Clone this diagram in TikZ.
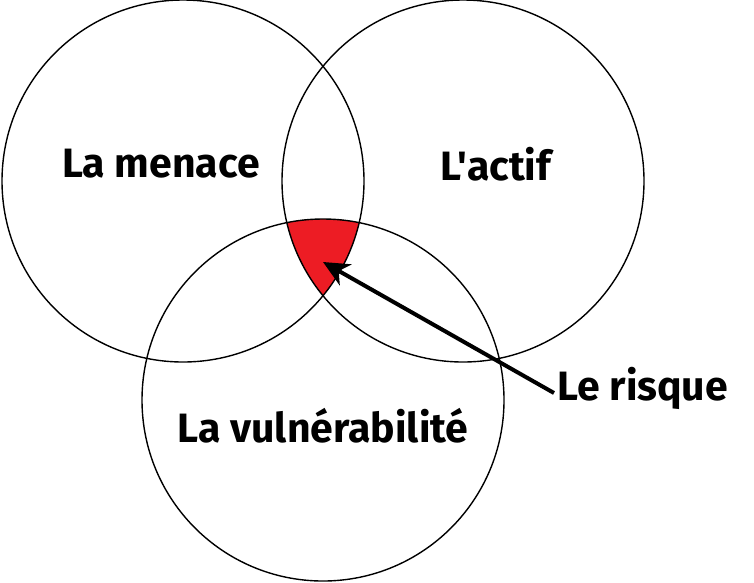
\documentclass[tikz,border=0pt]{standalone}
\usepackage{fontspec}
\setmainfont{Fira Sans}[Ligatures=TeXOff]
\usetikzlibrary{arrows.meta}
\begin{document}
\begin{tikzpicture}[x=1pt,y=-1pt,
  ring/.style={draw=black,line width=1.4pt},
  lbl/.style={font=\fontsize{41}{48}\selectfont\bfseries,inner sep=0pt},
  pointer/.style={line width=4pt,-{Stealth[length=26pt,width=24pt,inset=8pt]}}]
\useasboundingbox (0,0) rectangle (754,582);
\def\ra{181}
\coordinate (c1) at (183,181);
\coordinate (c2) at (463,181);
\coordinate (c3) at (323,400);
\begin{scope}
  \clip (c1) circle (\ra);
  \clip (c2) circle (\ra);
  \fill[fill={rgb,255:red,237;green,28;blue,36}] (c3) circle (\ra);
\end{scope}
\draw[ring] (c1) circle (\ra);
\draw[ring] (c2) circle (\ra);
\draw[ring] (c3) circle (\ra);
\node[lbl] (menace) at (161,164) {La menace};
\node[lbl] (actif) at (496,164) {L'actif};
\node[lbl] (vuln) at (323,426) {La vulnérabilité};
\node[lbl,anchor=west] (risque) at (557,388) {Le risque};
\coordinate (tip) at (323,262);
\draw[pointer] ([xshift=-3pt,yshift=-5pt]risque.west) -- (tip);
\end{tikzpicture}
\end{document}
